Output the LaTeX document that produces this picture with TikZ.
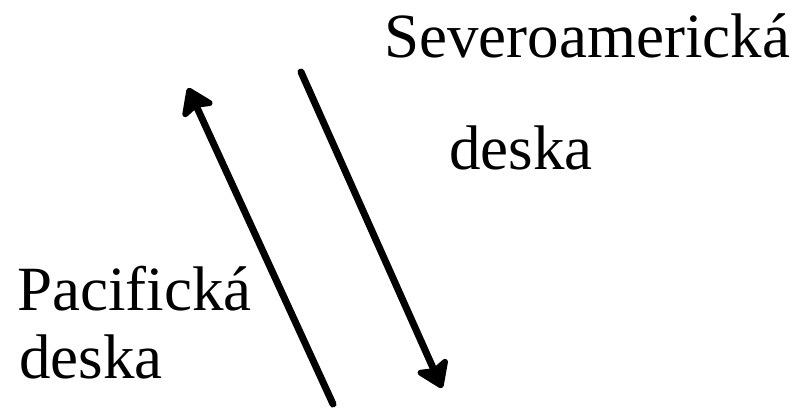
\documentclass[tikz,border=0pt]{standalone}
\usepackage{fontspec}
\setmainfont{Liberation Serif}
\usetikzlibrary{arrows.meta}
\begin{document}
\begin{tikzpicture}[x=1pt,y=-1pt,
  lbl/.style={anchor=base west,inner sep=0pt,font=\fontsize{63}{70}\selectfont},
  plate/.style={line width=7pt,line cap=round,-{Stealth[length=30pt,width=40pt,inset=6pt,round]}}]
\useasboundingbox (0,0) rectangle (803,413);
\node[lbl] (sev) at (384,57) {Severoamerická};
\node[lbl] (sevd) at (449,169) {deska};
\node[lbl] (pac) at (17,310) {Pacifická};
\node[lbl] (pacd) at (19,378) {deska};
\coordinate (a1s) at (333,404);
\coordinate (a1e) at (188,88);
\coordinate (a2s) at (301,72);
\coordinate (a2e) at (442,388);
\draw[plate] (a1s) -- (a1e);
\draw[plate] (a2s) -- (a2e);
\end{tikzpicture}
\end{document}
